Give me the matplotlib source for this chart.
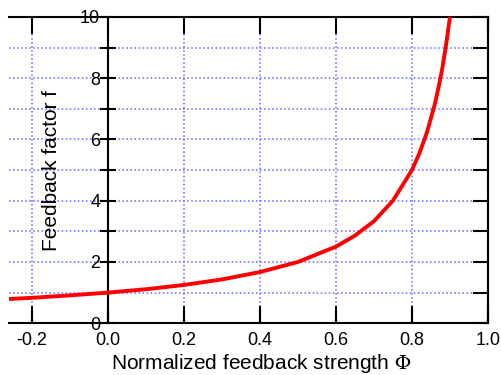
import matplotlib.pyplot as plt
import numpy as np

plt.rcParams['font.family'] = ['Liberation Sans', 'DejaVu Sans']
plt.rcParams['mathtext.fontset'] = 'stix'

# values
phi = [-0.26, -0.2, -0.1, 0.0, 0.1, 0.2, 0.3, 0.4, 0.5, 0.6, 0.65, 0.7,
       0.75, 0.8, 0.82, 0.84, 0.86, 0.87, 0.88, 0.89, 0.9]
f = [0.79, 0.83, 0.91, 1.0, 1.11, 1.25, 1.43, 1.67, 2.0, 2.5, 2.86, 3.33,
     4.0, 5.0, 5.56, 6.25, 7.14, 7.7, 8.33, 9.1, 10.0]
xticks = [-0.2, 0.0, 0.2, 0.4, 0.6, 0.8, 1.0]
xticklabels = ['-0.2', '0.0', '0.2', '0.4', '0.6', '0.8', '1.0']
yticks = list(range(0, 11))
yticklabels = [str(v) if v % 2 == 0 else '' for v in yticks]

fig = plt.figure(figsize=(5.02, 3.75), dpi=100)
ax = fig.add_axes([0.018, 0.138, 0.954, 0.817])

ax.set_xlim(-0.26, 1.0)
ax.set_ylim(0, 10)

# grid
for x in [-0.2, 0.2, 0.4, 0.6, 0.8]:
    ax.axvline(x, color='#6666ff', linestyle=':', linewidth=1.1, zorder=0)
for y in range(1, 10):
    ax.axhline(y, color='#6666ff', linestyle=':', linewidth=1.1, zorder=0)

ax.plot(phi, f, color='red', linewidth=2.8, zorder=3)

# y axis crosses at x = 0
ax.spines['left'].set_position(('data', 0))
for s in ['left', 'bottom', 'top', 'right']:
    ax.spines[s].set_linewidth(1.5)

ax.set_xticks(xticks)
ax.set_xticklabels(xticklabels, fontsize=13)
ax.set_yticks(yticks)
ax.set_yticklabels(yticklabels, fontsize=13)
ax.tick_params(axis='x', direction='in', length=12, width=1.5,
               top=True, bottom=True, pad=6)
ax.tick_params(axis='y', direction='inout', length=11, width=1.5, pad=0)

# ticks on the right spine, pointing in
sec = ax.secondary_yaxis('right')
sec.set_yticks(yticks)
sec.set_yticklabels([])
sec.tick_params(axis='y', direction='in', length=11, width=1.5)
sec.spines['right'].set_linewidth(1.5)

# bottom tick marks drawn as short segments in axes-fraction height
ax.vlines(xticks, 0, 0.04, transform=ax.get_xaxis_transform(),
          color='black', linewidth=1.5, zorder=4, clip_on=False)

ax.text(-0.147, 5.0, 'Feedback factor f', rotation=90, fontsize=15,
        ha='center', va='center')
ax.set_xlabel('Normalized feedback strength $\\Phi$', fontsize=15)
ax.xaxis.set_label_coords(0.526, -0.095)

plt.savefig('out.png', dpi=100)
